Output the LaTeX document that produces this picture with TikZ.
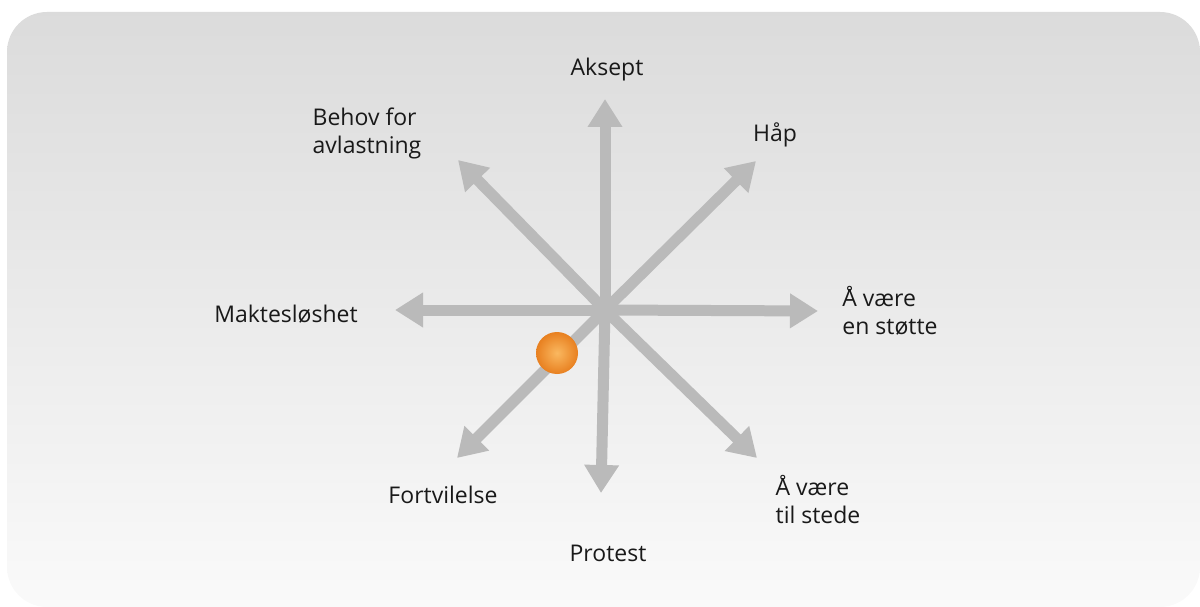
\documentclass[tikz,border=0pt]{standalone}
\usepackage{fontspec}
\setmainfont{Open Sans}
\usetikzlibrary{arrows.meta, positioning}

\definecolor{ballin}{RGB}{250,184,96}
\definecolor{ballout}{RGB}{232,128,32}

\begin{document}
\begin{tikzpicture}[
  x=1pt, y=-1pt,
  spoke/.style = {line width=11pt, draw=black!27,
                  -{Triangle[width=33pt, length=28pt]}},
  lbl/.style   = {font=\fontsize{23}{28}\selectfont, text=black!90,
                  align=left, inner sep=0pt},
  hub/.style   = {circle, fill=black!27, minimum size=20pt, inner sep=0pt}
]
\useasboundingbox (0,0) rectangle (1200,607);

% backdrop
\shade[top color=black!14, bottom color=black!2, rounded corners=40pt]
  (7,12) rectangle (1200,607);

\coordinate (c) at (605,310);

\coordinate (tn)  at (605,99);
\coordinate (tne) at (756,161);
\coordinate (te)  at (818,311);
\coordinate (tse) at (757,458);
\coordinate (ts)  at (601,493);
\coordinate (tsw) at (457,458);
\coordinate (tw)  at (395,310);
\coordinate (tnw) at (458,160);

\foreach \t in {tn, tne, te, tse, ts, tsw, tw, tnw}
  \draw[spoke] (c) -- (\t);
\node[hub] (hubc) at (c) {};

\node[circle, inner color=ballin, outer color=ballout,
      minimum size=42pt, inner sep=0pt] (ball) at (557,353) {};

\node[lbl] (aksept)  at (607,70)  {Aksept};
\node[lbl] (behov)   at (367,133) {Behov for\\avlastning};
\node[lbl] (haap)    at (775,135) {Håp};
\node[lbl] (stotte)  at (890,311) {Å være\\en støtte};
\node[lbl] (makt)    at (286,314) {Maktesløshet};
\node[lbl] (fortv)   at (443,495) {Fortvilelse};
\node[lbl] (protest) at (608,553) {Protest};
\node[lbl] (stede)   at (818,500) {Å være\\til stede};

\end{tikzpicture}
\end{document}
